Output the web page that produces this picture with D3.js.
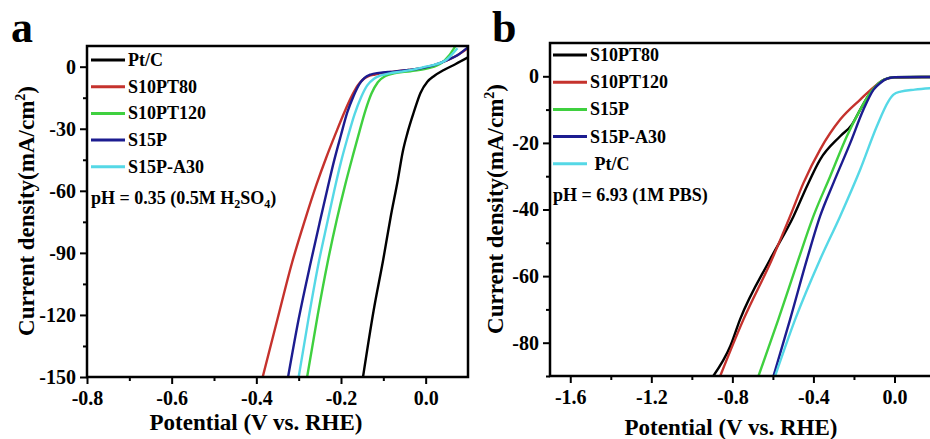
<!DOCTYPE html>
<html>
<head>
<meta charset="utf-8">
<script src="https://cdn.jsdelivr.net/npm/d3@7"></script>
<style>
body { margin: 0; background: #fff; }
text { font-family: "Liberation Serif", "Times New Roman", serif; font-weight: bold; fill: #000; }
.ax path { display: none; }
.ax line { stroke: #000; stroke-width: 2; }
</style>
</head>
<body>
<svg id="chart" width="930" height="439"></svg>
<script>
// PANEL A DATA (0.5M H2SO4) - [potential V, current mA/cm2]
var namesA = ["Pt/C", "S10PT80", "S10PT120", "S15P", "S15P-A30"];
var ptcA = [[-0.148,-150],[-0.123,-118],[-0.1,-93],[-0.083,-73],[-0.066,-55],[-0.054,-41],[-0.043,-32],[-0.028,-22],[-0.012,-12.6],[0.004,-7.3],[0.02,-4.5],[0.043,-1.6],[0.07,1.2],[0.1,4.5]];
var s10pt80A = [[-0.385,-150],[-0.35,-122],[-0.316,-95],[-0.285,-74],[-0.258,-57],[-0.235,-44],[-0.212,-32],[-0.192,-22],[-0.174,-14],[-0.16,-9],[-0.148,-6.2],[-0.135,-4.6],[-0.12,-3.8],[-0.1,-3],[-0.075,-2.4],[-0.04,-1.6],[-0.012,-0.8],[0.02,0.8],[0.05,3],[0.075,5.5],[0.1,9]];
var s10pt120A = [[-0.28,-150],[-0.255,-120],[-0.232,-95],[-0.21,-74],[-0.19,-57],[-0.172,-43],[-0.156,-31],[-0.142,-21],[-0.128,-13],[-0.113,-7.5],[-0.095,-4.5],[-0.075,-3.2],[-0.036,-2.2],[0,-1],[0.02,0],[0.045,3],[0.067,8.9],[0.075,12]];
var s15pA = [[-0.325,-150],[-0.3,-122],[-0.272,-95],[-0.25,-75],[-0.232,-59],[-0.217,-46],[-0.2,-33],[-0.185,-22],[-0.17,-14],[-0.157,-8.5],[-0.145,-5.5],[-0.13,-3.8],[-0.11,-3],[-0.075,-2.4],[-0.04,-1.6],[-0.012,-0.8],[0.02,0.8],[0.051,3.2],[0.075,5.5],[0.1,9.5]];
var s15pa30A = [[-0.30,-150],[-0.277,-122],[-0.253,-95],[-0.232,-75],[-0.215,-59],[-0.2,-46],[-0.184,-34],[-0.168,-23],[-0.152,-14.5],[-0.138,-9],[-0.122,-5.8],[-0.105,-4.2],[-0.085,-3.2],[-0.059,-2.4],[-0.03,-1.4],[0,0],[0.02,0.9],[0.05,3.5],[0.075,8.9]];

// PANEL B DATA (1M PBS)
var namesB = ["S10PT80", "S10PT120", "S15P", "S15P-A30", " Pt/C"];
var s10pt80B = [[-0.894,-90],[-0.81,-81],[-0.762,-73],[-0.614,-55],[-0.498,-42],[-0.432,-33],[-0.367,-25],[-0.268,-18],[-0.21,-14.5],[-0.169,-10],[-0.12,-5],[-0.08,-2.2],[-0.05,-1],[0,-0.3],[0.2,-0.2]];
var s10pt120B = [[-0.86,-90],[-0.745,-73],[-0.605,-55],[-0.515,-42],[-0.449,-32],[-0.367,-22],[-0.268,-13],[-0.169,-7],[-0.087,-2.5],[-0.05,-1],[0,-0.4],[0.2,-0.2]];
var s15pB = [[-0.671,-90],[-0.573,-73],[-0.474,-55],[-0.4,-42],[-0.317,-30],[-0.235,-18],[-0.169,-10],[-0.12,-5],[-0.08,-2.2],[-0.05,-1],[0,-0.3],[0.2,-0.2]];
var s15pa30B = [[-0.597,-90],[-0.515,-73],[-0.432,-55],[-0.367,-42],[-0.301,-32],[-0.218,-20],[-0.153,-10],[-0.103,-4],[-0.07,-2],[-0.04,-0.8],[0,-0.3],[0.2,-0.2]];
var ptcB = [[-0.589,-90],[-0.49,-73],[-0.367,-55],[-0.268,-42],[-0.169,-28],[-0.087,-15],[-0.03,-7.5],[-0.005,-5.5],[0.03,-4.6],[0.1,-4],[0.2,-3.5]];

// TICKS
var xTicksA = [-0.8, -0.6, -0.4, -0.2, 0.0];
var xMinorA = [-0.7, -0.5, -0.3, -0.1];
var yTicksA = [0, -30, -60, -90, -120, -150];
var yMinorA = [-15, -45, -75, -105, -135];
var xTicksB = [-1.6, -1.2, -0.8, -0.4, 0.0];
var xMinorB = [-1.4, -1.0, -0.6, -0.2];
var yTicksB = [0, -20, -40, -60, -80];
var yMinorB = [-10, -30, -50, -70, -90];

var colorA = d3.scaleOrdinal().domain(namesA).range(["#000000", "#c5322d", "#3fd03f", "#1c1c90", "#55d8e6"]);
var colorB = d3.scaleOrdinal().domain(namesB).range(["#000000", "#c5322d", "#3fd03f", "#1c1c90", "#55d8e6"]);

var svg = d3.select("#chart");

function drawPanel(p) {
	var g = svg.append("g");
	var x = p.x, y = p.y;
	var x0 = x.range()[0], x1 = x.range()[1], y0 = y.range()[1], y1 = y.range()[0];

	g.append("clipPath").attr("id", p.id + "clip")
		.append("rect").attr("x", x0).attr("y", y0).attr("width", x1 - x0).attr("height", y1 - y0);

	// AXES
	g.append("g").attr("class", "ax").attr("transform", "translate(0," + y1 + ")")
		.call(d3.axisBottom(x).tickValues(p.xTicks).tickSize(7).tickSizeOuter(0).tickPadding(7)
			.tickFormat(function(d) { return d.toFixed(1); }))
		.selectAll("text").style("font-size", "20px");
	g.append("g").attr("class", "ax").attr("transform", "translate(0," + y1 + ")")
		.call(d3.axisBottom(x).tickValues(p.xMinor).tickSize(4).tickSizeOuter(0).tickFormat(""));
	g.append("g").attr("class", "ax").attr("transform", "translate(" + x0 + ",0)")
		.call(d3.axisLeft(y).tickValues(p.yTicks).tickSize(7).tickSizeOuter(0).tickPadding(p.yPad)
			.tickFormat(function(d) { return String(d); }))
		.selectAll("text").style("font-size", "20px");
	g.append("g").attr("class", "ax").attr("transform", "translate(" + x0 + ",0)")
		.call(d3.axisLeft(y).tickValues(p.yMinor).tickSize(4).tickSizeOuter(0).tickFormat(""));
	g.selectAll(".ax").attr("font-family", null).attr("font-size", null);

	// CURVES
	var line = d3.line()
		.curve(d3.curveMonotoneX)
		.x(function(d) { return x(d[0]); })
		.y(function(d) { return y(d[1]); });
	var curves = g.append("g").attr("clip-path", "url(#" + p.id + "clip)");
	p.series.forEach(function(s, i) {
		curves.append("path")
			.attr("d", line(s))
			.attr("fill", "none")
			.attr("stroke", p.color(p.names[i]))
			.attr("stroke-width", 2.4);
	});

	// FRAME
	g.append("rect")
		.attr("x", x0).attr("y", y0).attr("width", x1 - x0).attr("height", y1 - y0)
		.attr("fill", "none").attr("stroke", "#000").attr("stroke-width", 2.5);

	// LEGEND
	p.names.forEach(function(n, i) {
		var ly = p.legY + i * p.legStep;
		g.append("line")
			.attr("x1", p.legX).attr("x2", p.legX + 34).attr("y1", ly).attr("y2", ly)
			.attr("stroke", p.color(n)).attr("stroke-width", 3);
		g.append("text")
			.attr("x", p.legX + 37).attr("y", ly + 6)
			.style("font-size", "18px").style("white-space", "pre")
			.text(n);
	});

	var ph = g.append("text")
		.attr("x", p.legX).attr("y", p.legY + 5 * p.legStep + 10)
		.style("font-size", "18px");
	p.phText(ph);

	// AXIS TITLES
	g.append("text")
		.attr("x", p.xtX).attr("y", p.xtY)
		.attr("text-anchor", "middle")
		.style("font-size", "23px")
		.text("Potential (V vs. RHE)");

	var yt = g.append("text")
		.attr("transform", "translate(" + p.ytX + "," + p.ytY + ") rotate(-90)")
		.attr("text-anchor", "middle")
		.style("font-size", "23px");
	yt.append("tspan").text("Current density(mA/cm");
	yt.append("tspan").attr("dy", -9).style("font-size", "14px").text("2");
	yt.append("tspan").attr("dy", 9).text(")");

	// PANEL LETTER
	g.append("text")
		.attr("x", p.letX).attr("y", 42)
		.style("font-size", "44px")
		.text(p.letter);
}

drawPanel({
	id: "a", letter: "a", letX: 11,
	x: d3.scaleLinear().domain([-0.8, 0.1]).range([87, 468]),
	y: d3.scaleLinear().domain([-150, 10]).range([377, 46]),
	xTicks: xTicksA, xMinor: xMinorA, yTicks: yTicksA, yMinor: yMinorA, yPad: 4,
	names: namesA, color: colorA,
	series: [ptcA, s10pt80A, s10pt120A, s15pA, s15pa30A],
	legX: 91, legY: 60, legStep: 26.7,
	phText: function(t) {
		t.append("tspan").text("pH = 0.35 (0.5M H");
		t.append("tspan").attr("dy", 4).style("font-size", "12px").text("2");
		t.append("tspan").attr("dy", -4).text("SO");
		t.append("tspan").attr("dy", 4).style("font-size", "12px").text("4");
		t.append("tspan").attr("dy", -4).text(")");
	},
	xtX: 256, xtY: 430, ytX: 34, ytY: 211
});

drawPanel({
	id: "b", letter: "b", letX: 492,
	x: d3.scaleLinear().domain([-1.7, 0.2]).range([550, 935]),
	y: d3.scaleLinear().domain([-90, 10]).range([376, 43]),
	xTicks: xTicksB, xMinor: xMinorB, yTicks: yTicksB, yMinor: yMinorB, yPad: 4,
	names: namesB, color: colorB,
	series: [s10pt80B, s10pt120B, s15pB, s15pa30B, ptcB],
	legX: 553, legY: 55, legStep: 27.2,
	phText: function(t) {
		t.append("tspan").text("pH = 6.93 (1M PBS)");
	},
	xtX: 731, xtY: 435, ytX: 503, ytY: 209
});
</script>
</body>
</html>
